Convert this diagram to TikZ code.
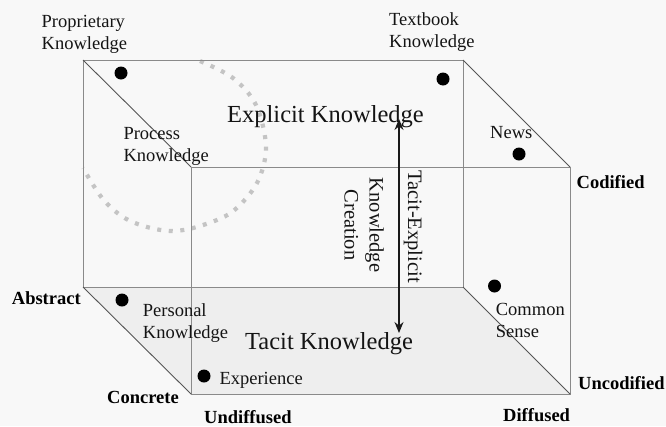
\documentclass[tikz,border=0pt]{standalone}
\usepackage{fontspec}
\setmainfont{Liberation Serif}
\usetikzlibrary{arrows.meta}
\definecolor{bgcol}{HTML}{F8F8F8}
\definecolor{floorcol}{HTML}{EEEEEE}
\definecolor{edgegray}{HTML}{8A8A8A}
\definecolor{diaggray}{HTML}{555555}
\definecolor{halogray}{HTML}{C4C4C4}
\newcommand{\twoline}[2]{\begin{tabular}[t]{@{}l@{}}#1\\#2\end{tabular}}
\newcommand{\twocenter}[2]{\begin{tabular}[t]{@{}c@{}}#1\\#2\end{tabular}}
\tikzset{
  edge/.style={draw=edgegray, line width=0.9pt},
  diag/.style={draw=diaggray, line width=0.9pt},
  spot/.style={circle, fill=black, draw=none, inner sep=0pt, minimum size=13pt},
  lbl/.style={inner sep=0pt, text=black!92, font=\fontsize{18.5}{22}\selectfont},
  axislbl/.style={inner sep=0pt, text=black, font=\bfseries\fontsize{18.5}{22}\selectfont},
  biglbl/.style={inner sep=0pt, text=black!92, font=\fontsize{24.5}{29}\selectfont},
  vlbl/.style={inner sep=0pt, rotate=-90, text=black!92, font=\fontsize{20.5}{25}\selectfont},
  halo/.style={draw=halogray, line width=4.2pt, dash pattern=on 4pt off 7.6pt},
  bothway/.style={{Stealth[length=11pt,width=9pt]}-{Stealth[length=11pt,width=9pt]}, line width=1.3pt, draw=black!90}
}
\begin{document}
\begin{tikzpicture}[x=1pt,y=-1pt]
\useasboundingbox (0,0) rectangle (666,426);
\fill[bgcol] (0,0) rectangle (666,426);
% cube corners
\coordinate (B1) at (83,60);
\coordinate (B2) at (463,60);
\coordinate (B3) at (463,287);
\coordinate (B4) at (83,287);
\coordinate (F1) at (191,167);
\coordinate (F2) at (570,167);
\coordinate (F3) at (570,394);
\coordinate (F4) at (191,394);
% tacit floor
\fill[floorcol] (B4) -- (B3) -- (F3) -- (F4) -- cycle;
% dotted halo
\draw[halo] plot[smooth, tension=0.55] coordinates {(200,61) (233,78) (256,105) (266,147) (257,183) (232,212) (200,226) (173,231) (147,227) (123,217) (102,198) (83,168)};
% edges
\draw[edge] (B1) -- (B2) -- (B3) -- (B4) -- cycle;
\draw[edge] (F1) -- (F2) -- (F3) -- (F4) -- cycle;
\draw[diag] (B1) -- (F1);
\draw[diag] (B2) -- (F2);
\draw[diag] (B3) -- (F3);
\draw[diag] (B4) -- (F4);
% arrow
\coordinate (atop) at (399,119);
\coordinate (abot) at (399,333);
\draw[bothway] (atop) -- (abot);
% spots
\node[spot] (dprop) at (121,73) {};
\node[spot] (dtext) at (443,79) {};
\node[spot] (dnews) at (519,154) {};
\node[spot] (dpers) at (122,300) {};
\node[spot] (dexp) at (204,376) {};
\node[spot] (dcomm) at (494.5,286) {};
% labels
\node[lbl, anchor=base west] (prop) at (41.5,27) {\twoline{Proprietary}{Knowledge}};
\node[lbl, anchor=base west] (textb) at (389,25) {\twoline{Textbook}{Knowledge}};
\node[lbl, anchor=base west] (proc) at (123.3,139.3) {\twoline{Process}{Knowledge}};
\node[lbl, anchor=base west] (news) at (490,138.3) {News};
\node[biglbl, anchor=base west] (expl) at (227,122) {Explicit Knowledge};
\node[axislbl, anchor=base west] (cod) at (576.5,188.3) {Codified};
\node[axislbl, anchor=base west] (abs) at (11.7,304.7) {Abstract};
\node[lbl, anchor=base west] (pers) at (142.7,316.3) {\twoline{Personal}{Knowledge}};
\node[biglbl, anchor=base west] (tac) at (245,349.7) {Tacit Knowledge};
\node[lbl, anchor=base west] (expe) at (219.3,384.3) {Experience};
\node[axislbl, anchor=base west] (conc) at (107,403.7) {Concrete};
\node[axislbl, anchor=base west] (undif) at (204,423) {Undiffused};
\node[lbl, anchor=base west] (comm) at (495.7,315.7) {\twoline{Common}{Sense}};
\node[axislbl, anchor=base west] (uncod) at (578,389.7) {Uncodified};
\node[axislbl, anchor=base west] (dif) at (503,421.3) {Diffused};
\node[vlbl, anchor=base] (te) at (408,226.5) {Tacit-Explicit};
\node[vlbl, anchor=base] (kc) at (369.5,225) {\twocenter{Knowledge}{Creation}};
\end{tikzpicture}
\end{document}
